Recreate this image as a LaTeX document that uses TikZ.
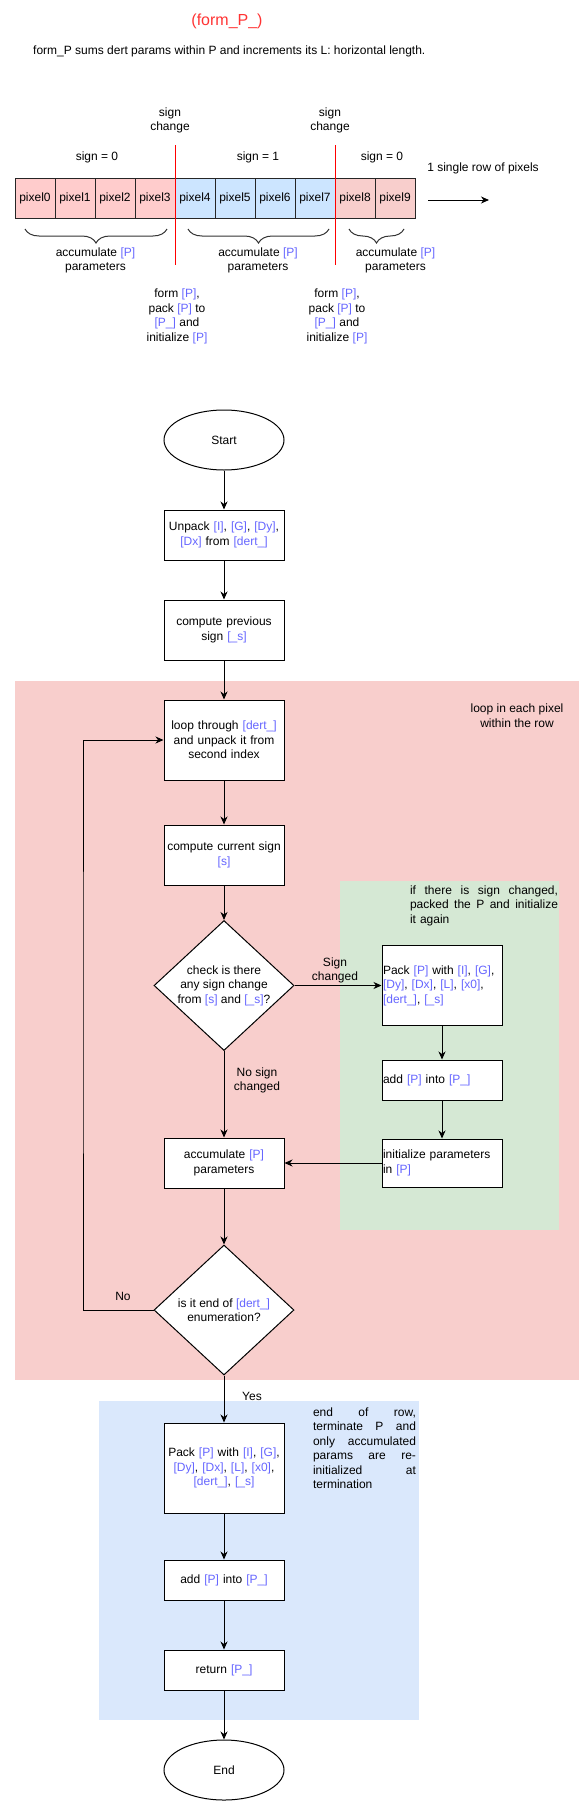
\documentclass[tikz,border=0pt]{standalone}
\usepackage{fontspec}
\setmainfont{Liberation Sans}
\usetikzlibrary{shapes.geometric,arrows.meta,decorations.pathreplacing}
\definecolor{pblue}{HTML}{6666FF}
\definecolor{tred}{HTML}{FF3333}
\definecolor{regred}{HTML}{F8CECC}
\definecolor{reggreen}{HTML}{D5E8D4}
\definecolor{regblue}{HTML}{DAE8FC}
\definecolor{pxred}{HTML}{FFCCCC}
\definecolor{pxblue}{HTML}{CCE5FF}
\definecolor{pxpink}{HTML}{F8CECC}
\newcommand\bl[1]{\textcolor{pblue}{#1}}
\newcommand\jrow[2]{\leavevmode\hbox to #1{#2}}
\begin{document}
\begin{tikzpicture}[x=1pt,y=-1pt,
  every node/.style={font=\fontsize{12}{14.5}\selectfont},
  lbl/.style={align=center,inner sep=0pt},
  box/.style={draw=black,fill=white,line width=1pt,minimum width=120pt,inner xsep=1pt,inner ysep=0pt,text width=118pt,align=center},
  lbox/.style={box,align=left},
  term/.style={ellipse,draw=black,fill=white,line width=1pt,minimum width=120pt,minimum height=60pt,inner sep=0pt},
  dec/.style={diamond,draw=black,fill=white,line width=1pt,minimum width=140pt,minimum height=130pt,inner sep=0pt},
  px/.style={draw=black!85,line width=1pt,minimum width=40pt,minimum height=40pt,inner sep=0pt},
  arr/.style={line width=1pt,-{Stealth[length=8pt,width=7pt,inset=2.5pt]}},
  redline/.style={draw=red,line width=1pt},
  brc/.style={draw=black!80,line width=1pt,decorate,decoration={brace,amplitude=14pt,mirror}}
]
\useasboundingbox (0,0) rectangle (580,1801);

% header
\node[lbl,text=tred,font=\fontsize{16}{19}\selectfont] (title) at (227,21) {(form\_P\_)};
\node[lbl,anchor=west] (sub) at (33,51) {form\_P sums dert params within P and increments its L: horizontal length.};

% pixel row
\node[lbl] (sc1) at (170,120.5) {sign\\change};
\node[lbl] (sc2) at (330,120.5) {sign\\change};
\node[lbl] (s0a) at (97,157) {sign = 0};
\node[lbl] (s1) at (258,157) {sign = 1};
\node[lbl] (s0b) at (382,157) {sign = 0};
\node[lbl] (rowlbl) at (483,168) {1 single row of pixels};
\foreach \i/\c in {0/pxred,1/pxred,2/pxred,3/pxred,4/pxblue,5/pxblue,6/pxblue,7/pxblue,8/pxpink,9/pxpink}{
  \node[px,fill=\c] (p\i) at ({35+40*\i},198) {pixel\i};
}
\coordinate (ra) at (428,200);
\coordinate (rb) at (489,200);
\draw[arr] (ra) -- (rb);
\coordinate (r1a) at (175,145); \coordinate (r1b) at (175,265);
\coordinate (r2a) at (335,145); \coordinate (r2b) at (335,265);
\draw[redline] (r1a) -- (r1b);
\draw[redline] (r2a) -- (r2b);
\coordinate (b1a) at (25,229); \coordinate (b1b) at (167,229);
\coordinate (b2a) at (188,229); \coordinate (b2b) at (329,229);
\coordinate (b3a) at (349,229); \coordinate (b3b) at (404,229);
\draw[brc] (b1a) -- (b1b);
\draw[brc] (b2a) -- (b2b);
\draw[brc] (b3a) -- (b3b);
\node[lbl] (acc1) at (95.5,260.5) {accumulate \bl{[P]}\\parameters};
\node[lbl] (acc2) at (258,260.5) {accumulate \bl{[P]}\\parameters};
\node[lbl] (acc3) at (395.5,260.5) {accumulate \bl{[P]}\\parameters};
\node[lbl] (f1) at (177,316.5) {form \bl{[P]},\\pack \bl{[P]} to\\\bl{[P\_]} and\\initialize \bl{[P]}};
\node[lbl] (f2) at (337,316.5) {form \bl{[P]},\\pack \bl{[P]} to\\\bl{[P\_]} and\\initialize \bl{[P]}};

% regions
\fill[regred] (15,681) rectangle (579,1380);
\fill[reggreen] (340,881) rectangle (559,1230);
\fill[regblue] (99,1401) rectangle (419,1720);

\node[lbl] (looplbl) at (517,715.5) {loop in each pixel\\within the row};
\node[lbl,text width=148pt,align=left] (greenlbl) at (484,905.5) {\jrow{148pt}{if\hfill there\hfill is\hfill sign\hfill changed,}\\\jrow{148pt}{packed\hfill the\hfill P\hfill and\hfill initialize}\\it again};
\node[lbl,text width=103pt,align=left] (bluelbl) at (364.5,1448) {\jrow{103pt}{end\hfill of\hfill row,}\\\jrow{103pt}{terminate\hfill P\hfill and}\\\jrow{103pt}{only\hfill accumulated}\\\jrow{103pt}{params\hfill are\hfill re-}\\\jrow{103pt}{initialized\hfill at}\\termination};

% flow
\node[term] (start) at (224,440) {Start};
\node[box,minimum height=50pt] (unpack) at (224,535) {Unpack \bl{[I]}, \bl{[G]}, \bl{[Dy]},\\\bl{[Dx]} from \bl{[dert\_]}};
\node[box,minimum height=60pt] (prev) at (224,630) {compute previous\\sign \bl{[\_s]}};
\node[box,minimum height=80pt] (loop) at (224,740) {loop through \bl{[dert\_]}\\and unpack it from\\second index};
\node[box,minimum height=60pt] (cur) at (224,855) {compute current sign\\\bl{[s]}};
\node[dec] (d1) at (224,985.5) {};
\node[lbl] (d1t) at (224,985.5) {check is there\\any sign change\\from \bl{[s]} and \bl{[\_s]}?};
\node[lbox,minimum height=80pt] (pack1) at (442,985.5) {Pack \bl{[P]} with \bl{[I]}, \bl{[G]},\\\bl{[Dy]}, \bl{[Dx]}, \bl{[L]}, \bl{[x0]},\\\bl{[dert\_]}, \bl{[\_s]}};
\node[lbox,minimum height=40pt] (add1) at (442,1080) {add \bl{[P]} into \bl{[P\_]}};
\node[lbox,minimum height=48pt] (init1) at (442,1163) {initialize parameters\\in \bl{[P]}};
\node[box,minimum height=50pt] (accum) at (224,1163) {accumulate \bl{[P]}\\parameters};
\node[dec] (d2) at (224,1310) {};
\node[lbl] (d2t) at (224,1310) {is it end of \bl{[dert\_]}\\enumeration?};
\node[box,minimum height=90pt] (pack2) at (224,1468) {Pack \bl{[P]} with \bl{[I]}, \bl{[G]},\\\bl{[Dy]}, \bl{[Dx]}, \bl{[L]}, \bl{[x0]},\\\bl{[dert\_]}, \bl{[\_s]}};
\node[box,minimum height=40pt] (add2) at (224,1580) {add \bl{[P]} into \bl{[P\_]}};
\node[box,minimum height=40pt] (ret) at (224,1670) {return \bl{[P\_]}};
\node[term] (end) at (224,1770) {End};

\node[lbl] (lsc) at (335,970.5) {Sign\\changed};
\node[lbl] (lnsc) at (257,1080.5) {No sign\\changed};
\node[lbl] (lno) at (123,1296) {No};
\node[lbl] (lyes) at (252,1396) {Yes};

\draw[arr] (start) -- (unpack);
\draw[arr] (unpack) -- (prev);
\draw[arr] (prev) -- (loop);
\draw[arr] (loop) -- (cur);
\draw[arr] (cur) -- (d1);
\draw[arr] (d1.east) -- (pack1.west);
\draw[arr] (pack1) -- (add1);
\draw[arr] (add1) -- (init1);
\draw[arr] (init1.west) -- (accum.east);
\draw[arr] (d1.south) -- (accum.north);
\draw[arr] (accum) -- (d2.north);
\coordinate (lb) at (83,1000);
\draw[arr] (d2.west) -| (lb) |- (loop.west);
\draw[arr] (d2.south) -- (pack2.north);
\draw[arr] (pack2) -- (add2);
\draw[arr] (add2) -- (ret);
\draw[arr] (ret) -- (end);
\end{tikzpicture}
\end{document}
